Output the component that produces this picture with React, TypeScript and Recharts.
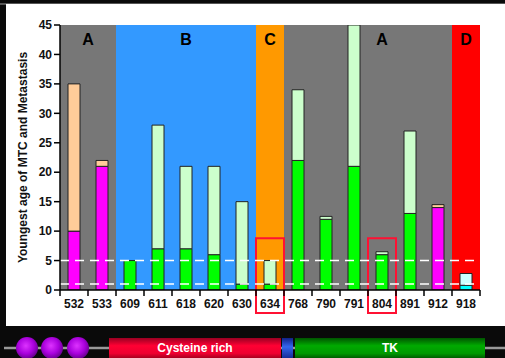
import React from 'react';
import {
  BarChart, Bar, XAxis, YAxis, Cell, ReferenceArea, ReferenceLine,
} from 'recharts';

const categories = ['532', '533', '609', '611', '618', '620', '630', '634', '768', '790', '791', '804', '891', '912', '918'];
const youngestMTC = [10, 21, 5, 7, 7, 6, 1, 1, 22, 12, 21, 6, 13, 14, 0.8];
const youngestTotal = [35, 22, 5, 28, 21, 21, 15, 5, 34, 12.5, 45, 6.5, 27, 14.5, 2.8];
const groups = ['pink', 'pink', 'green', 'green', 'green', 'green', 'green', 'green', 'green', 'green', 'green', 'green', 'green', 'pink', 'cyan'];
const yTicks = [0, 5, 10, 15, 20, 25, 30, 35, 40, 45];

const bands = [
  { from: '532', to: '533', label: 'A', fill: '#777777' },
  { from: '609', to: '630', label: 'B', fill: '#3399FF' },
  { from: '634', to: '634', label: 'C', fill: '#FF9900' },
  { from: '768', to: '912', label: '', fill: '#777777' },
  { from: '918', to: '918', label: 'D', fill: '#FF0000' },
];
const highlighted = ['634', '804'];

const BASE_COLORS: Record<string, string> = { pink: '#FF00FF', green: '#00FF00', cyan: '#00FFFF' };
const TOP_COLORS: Record<string, string> = { pink: '#FFCC99', green: '#CCFFCC', cyan: '#CCFFFF' };

const data = categories.map((c, i) => ({
  name: c,
  mtc: youngestMTC[i],
  meta: +(youngestTotal[i] - youngestMTC[i]).toFixed(2),
}));

const FONT = '"Liberation Sans", Arial, sans-serif';

const XTick = (props: any) => {
  const { x, y, payload, index, width, visibleTicksCount } = props;
  const bw = width / visibleTicksCount;
  const axisY = y - 8;
  return (
    <g>
      <line x1={x - bw / 2} x2={x - bw / 2} y1={axisY} y2={axisY + 6} stroke="#000" strokeWidth={1.5} />
      {index === visibleTicksCount - 1 && (
        <line x1={x + bw / 2} x2={x + bw / 2} y1={axisY} y2={axisY + 6} stroke="#000" strokeWidth={1.5} />
      )}
      <text x={x} y={axisY + 18} textAnchor="middle" fontSize={12} fontWeight="bold" fill="#111" fontFamily={FONT}>
        {payload.value}
      </text>
    </g>
  );
};

const YLabel = (props: any) => {
  const { viewBox } = props;
  const cx = viewBox.x + 9;
  const cy = viewBox.y + viewBox.height / 2;
  return (
    <text x={cx} y={cy} transform={`rotate(-90 ${cx} ${cy})`} textAnchor="middle" dominantBaseline="central"
      fontSize={12} fontWeight="bold" fill="#111" fontFamily={FONT}>
      Youngest age of MTC and Metastasis
    </text>
  );
};

function Domains() {
  return (
    <svg width={505} height={32} style={{ position: 'absolute', left: 0, top: 326 }}>
      <defs>
        <radialGradient id="purp" cx="45%" cy="40%" r="60%">
          <stop offset="0%" stopColor="#dd33ff" />
          <stop offset="60%" stopColor="#aa00dd" />
          <stop offset="100%" stopColor="#6a0090" />
        </radialGradient>
        <linearGradient id="redg" x1="0" y1="0" x2="0" y2="1">
          <stop offset="0%" stopColor="#990022" />
          <stop offset="35%" stopColor="#ff0033" />
          <stop offset="70%" stopColor="#ee0030" />
          <stop offset="100%" stopColor="#880018" />
        </linearGradient>
        <linearGradient id="greeng" x1="0" y1="0" x2="0" y2="1">
          <stop offset="0%" stopColor="#005500" />
          <stop offset="35%" stopColor="#00aa00" />
          <stop offset="70%" stopColor="#009900" />
          <stop offset="100%" stopColor="#004400" />
        </linearGradient>
        <linearGradient id="blueg" x1="0" y1="0" x2="0" y2="1">
          <stop offset="0%" stopColor="#112288" />
          <stop offset="40%" stopColor="#3366ee" />
          <stop offset="100%" stopColor="#112288" />
        </linearGradient>
      </defs>
      <line x1={4} x2={505} y1={22} y2={22} stroke="#999" strokeWidth={2.5} />
      {[27, 52, 78].map((cx) => (
        <circle key={cx} cx={cx} cy={22} r={11} fill="url(#purp)" />
      ))}
      <rect x={109} y={12} width={172} height={22} fill="url(#redg)" />
      <text x={195} y={26} textAnchor="middle" fontSize={12} fontWeight="bold" fill="#fff" fontFamily={FONT}>Cysteine rich</text>
      <rect x={282} y={12} width={11} height={22} fill="url(#blueg)" />
      <rect x={295} y={12} width={190} height={22} fill="url(#greeng)" />
      <text x={390} y={26} textAnchor="middle" fontSize={12} fontWeight="bold" fill="#fff" fontFamily={FONT}>TK</text>
    </svg>
  );
}

export default function App() {
  return (
    <div style={{ position: 'fixed', left: 0, top: 0, width: 505, height: 358, background: '#0a0a0a', overflow: 'hidden' }}>
      <div style={{ position: 'absolute', left: 0, top: 3, width: 505, height: 1.5, background: '#555' }} />
      <div style={{ position: 'absolute', left: 6, top: 4, width: 499, height: 322, background: '#fff' }}>
        <BarChart width={499} height={322} data={data} margin={{ top: 21, right: 25, left: 8, bottom: 12 }} barSize={12}>
          {bands.map((b) => (
            <ReferenceArea key={b.from} x1={b.from} x2={b.to} y1={0} y2={45} fill={b.fill} fillOpacity={1} stroke="none"
              label={b.label ? { value: b.label, position: 'insideTop', offset: 9, fontSize: 16, fontWeight: 'bold', fill: '#000', fontFamily: FONT } : undefined} />
          ))}
          <ReferenceArea x1="804" x2="804" y1={0} y2={45} fill="none" stroke="none"
            label={{ value: 'A', position: 'insideTop', offset: 9, fontSize: 16, fontWeight: 'bold', fill: '#000', fontFamily: FONT }} />
          <XAxis dataKey="name" interval={0} axisLine={{ stroke: '#000', strokeWidth: 1.5 }} tickLine={{ stroke: 'none' }}
            tick={<XTick />} height={24} />
          <YAxis domain={[0, 45]} ticks={yTicks} width={46} axisLine={{ stroke: '#000', strokeWidth: 1.5 }}
            tickLine={{ stroke: '#000', strokeWidth: 1.5 }} allowDataOverflow
            tick={{ fill: '#111', fontSize: 12, fontWeight: 'bold', fontFamily: FONT }}
            label={{ content: <YLabel /> }} />
          <Bar dataKey="mtc" stackId="a" stroke="#222" strokeWidth={1} isAnimationActive={false}>
            {data.map((d, i) => <Cell key={d.name} fill={BASE_COLORS[groups[i]]} />)}
          </Bar>
          <Bar dataKey="meta" stackId="a" stroke="#222" strokeWidth={1} isAnimationActive={false}>
            {data.map((d, i) => <Cell key={d.name} fill={TOP_COLORS[groups[i]]} />)}
          </Bar>
          <ReferenceLine y={5} stroke="#fff" strokeWidth={1.5} strokeDasharray="9 6" />
          <ReferenceLine y={1} stroke="#fff" strokeWidth={1.5} strokeDasharray="9 6" />
          {highlighted.map((h) => (
            <ReferenceArea key={h} x1={h} x2={h} y1={-3.9} y2={8.8} fill="none" stroke="#FF1133" strokeWidth={2}
              ifOverflow="visible" />
          ))}
        </BarChart>
      </div>
      <Domains />
    </div>
  );
}
